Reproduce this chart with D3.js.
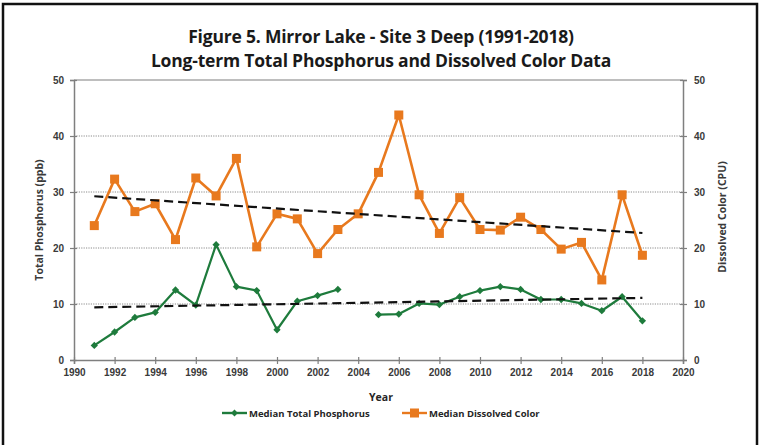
<!DOCTYPE html>
<html>
<head>
<meta charset="utf-8">
<script src="https://cdn.jsdelivr.net/npm/d3@7"></script>
<style>
  html, body { margin: 0; padding: 0; background: #fff; }
  svg { display: block; font-family: "Open Sans", sans-serif; }
</style>
</head>
<body>
<div id="container"></div>
<script>
"use strict";

const years = [1991, 1992, 1993, 1994, 1995, 1996, 1997, 1998, 1999, 2000, 2001, 2002, 2003, 2004,
  2005, 2006, 2007, 2008, 2009, 2010, 2011, 2012, 2013, 2014, 2015, 2016, 2017, 2018];
// Median Total Phosphorus (ppb), no value in 2004
const phosphorus = [2.6, 5.0, 7.6, 8.5, 12.5, 9.8, 20.6, 13.1, 12.4, 5.4, 10.5, 11.5, 12.6, null,
  8.1, 8.2, 10.1, 9.9, 11.3, 12.4, 13.1, 12.6, 10.8, 10.8, 10.1, 8.8, 11.3, 7.0];
// Median Dissolved Color (CPU)
const color = [24.0, 32.3, 26.5, 27.9, 21.5, 32.5, 29.3, 36.0, 20.2, 26.1, 25.2, 19.0, 23.3, 26.1,
  33.5, 43.75, 29.5, 22.6, 29.0, 23.3, 23.2, 25.5, 23.3, 19.8, 21.0, 14.3, 29.5, 18.7];
const xTicks = d3.range(1990, 2021, 2);
const yTicks = [0, 10, 20, 30, 40, 50];
const titleLines = ["Figure 5. Mirror Lake - Site 3 Deep (1991-2018)",
  "Long-term Total Phosphorus and Dissolved Color Data"];

const W = 761, H = 445;
const plot = { left: 74, right: 683, top: 80, bottom: 360 };
const GREEN = "#1e7b3c", ORANGE = "#e8791e", AXIS = "#7f7f7f", TEXT = "#3a3a3a";

const svg = d3.select("#container").append("svg").attr("width", W).attr("height", H);

// Outer frame
svg.append("rect").attr("x", 3).attr("y", 4).attr("width", 754).attr("height", H + 10)
  .attr("fill", "none").attr("stroke", "#111").attr("stroke-width", 2.5);

const x = d3.scaleLinear().domain([1990, 2020]).range([plot.left, plot.right]);
const y = d3.scaleLinear().domain([0, 50]).range([plot.bottom, plot.top]);
const y2 = d3.scaleLinear().domain([0, 50]).range([plot.bottom, plot.top]);

// Title
svg.append("g").selectAll("text").data(titleLines).join("text")
  .attr("x", 381).attr("y", (d, i) => 43 + i * 24)
  .attr("text-anchor", "middle").attr("font-size", 17.5).attr("font-weight", 700)
  .attr("letter-spacing", -0.2).attr("fill", "#1a1a1a").text((d) => d);

// Gridlines
svg.append("g").selectAll("line").data(yTicks.filter((t) => t > 0 && t < 50)).join("line")
  .attr("x1", plot.left).attr("x2", plot.right)
  .attr("y1", (d) => y(d)).attr("y2", (d) => y(d))
  .attr("stroke", "#8c8c8c").attr("stroke-width", 1).attr("stroke-dasharray", "1.2,1.2");
svg.append("line").attr("x1", plot.left).attr("x2", plot.right)
  .attr("y1", plot.top).attr("y2", plot.top).attr("stroke", AXIS).attr("stroke-width", 1.2);

// Axes (ticks crossing the axis line)
function styleAxis(g) {
  g.selectAll("path.domain").attr("stroke", AXIS).attr("stroke-width", 1.5);
  g.selectAll(".tick line").attr("stroke", AXIS).attr("stroke-width", 1.2);
  g.selectAll("text").attr("fill", TEXT).attr("font-size", 10).attr("font-weight", 700);
}

const gx = svg.append("g").attr("transform", `translate(0,${plot.bottom})`)
  .call(d3.axisBottom(x).tickValues(xTicks).tickFormat(d3.format("d")).tickSizeOuter(0).tickSize(4).tickPadding(5))
  .call(styleAxis);
gx.selectAll(".tick line").attr("y1", -3);

const gy = svg.append("g").attr("transform", `translate(${plot.left},0)`)
  .call(d3.axisLeft(y).tickValues(yTicks).tickSizeOuter(0).tickSize(4).tickPadding(6))
  .call(styleAxis);
gy.selectAll(".tick line").attr("x1", 3);

const gy2 = svg.append("g").attr("transform", `translate(${plot.right},0)`)
  .call(d3.axisRight(y2).tickValues(yTicks).tickSizeOuter(0).tickSize(4).tickPadding(7))
  .call(styleAxis);
gy2.selectAll(".tick line").attr("x1", -3);

// Axis titles
svg.append("text").attr("transform", `translate(43,${(plot.top + plot.bottom) / 2}) rotate(-90)`)
  .attr("text-anchor", "middle").attr("font-size", 10.5).attr("font-weight", 700)
  .attr("fill", TEXT).text("Total Phosphorus (ppb)");
svg.append("text").attr("transform", `translate(726,${(plot.top + plot.bottom) / 2 - 3}) rotate(-90)`)
  .attr("text-anchor", "middle").attr("font-size", 10.5).attr("font-weight", 700)
  .attr("fill", TEXT).text("Dissolved Color (CPU)");
svg.append("text").attr("x", 381).attr("y", 401).attr("text-anchor", "middle")
  .attr("font-size", 10.5).attr("font-weight", 700).attr("fill", "#262626").text("Year");

// Linear trend lines (least squares, like the spreadsheet trendline)
function trend(xs, ys) {
  const pts = xs.map((v, i) => [v, ys[i]]).filter((p) => p[1] != null);
  const mx = d3.mean(pts, (p) => p[0]), my = d3.mean(pts, (p) => p[1]);
  const slope = d3.sum(pts, (p) => (p[0] - mx) * (p[1] - my)) / d3.sum(pts, (p) => (p[0] - mx) ** 2);
  const x0 = d3.min(pts, (p) => p[0]), x1 = d3.max(pts, (p) => p[0]);
  return [[x0, my + slope * (x0 - mx)], [x1, my + slope * (x1 - mx)]];
}

const colorPts = years.map((yr, i) => ({ yr, v: color[i] }));
const tpPts = years.map((yr, i) => ({ yr, v: phosphorus[i] }));

const line = (scale) => d3.line().defined((d) => d.v != null).x((d) => x(d.yr)).y((d) => scale(d.v));

// Dissolved color series
svg.append("path").datum(colorPts).attr("d", line(y2))
  .attr("fill", "none").attr("stroke", ORANGE).attr("stroke-width", 2.6).attr("stroke-linejoin", "round");
svg.append("g").selectAll("rect").data(colorPts).join("rect")
  .attr("x", (d) => x(d.yr) - 4.5).attr("y", (d) => y2(d.v) - 4.5)
  .attr("width", 9).attr("height", 9).attr("fill", ORANGE);

// Phosphorus series
svg.append("path").datum(tpPts).attr("d", line(y))
  .attr("fill", "none").attr("stroke", GREEN).attr("stroke-width", 2.2).attr("stroke-linejoin", "round");
svg.append("g").selectAll("path.dm").data(tpPts.filter((d) => d.v != null)).join("path")
  .attr("d", d3.symbol(d3.symbolDiamond2, 34))
  .attr("transform", (d) => `translate(${x(d.yr)},${y(d.v)})`).attr("fill", GREEN);

// Trend lines on top
const tl = d3.line().x((d) => x(d[0]));
svg.append("path").attr("d", tl.y((d) => y2(d[1]))(trend(years, color)))
  .attr("fill", "none").attr("stroke", "#111").attr("stroke-width", 2.2).attr("stroke-dasharray", "9,5");
svg.append("path").attr("d", tl.y((d) => y(d[1]))(trend(years, phosphorus)))
  .attr("fill", "none").attr("stroke", "#111").attr("stroke-width", 2.2).attr("stroke-dasharray", "9,5");

// Legend
const legend = [
  { label: "Median Total Phosphorus", c: GREEN, x: 222, marker: "diamond" },
  { label: "Median Dissolved Color", c: ORANGE, x: 402, marker: "square" }
];
const lg = svg.append("g").selectAll("g").data(legend).join("g")
  .attr("transform", (d) => `translate(${d.x},413)`);
lg.append("line").attr("x1", 0).attr("x2", 25).attr("stroke", (d) => d.c).attr("stroke-width", 2.4);
lg.filter((d) => d.marker === "square").append("rect")
  .attr("x", 8).attr("y", -4.5).attr("width", 9).attr("height", 9).attr("fill", (d) => d.c);
lg.filter((d) => d.marker === "diamond").append("path")
  .attr("d", d3.symbol(d3.symbolDiamond2, 30)).attr("transform", "translate(12.5,0)")
  .attr("fill", (d) => d.c);
lg.append("text").attr("x", 27).attr("y", 3.5).attr("font-size", 9.5).attr("font-weight", 700)
  .attr("fill", "#262626").text((d) => d.label);
</script>
</body>
</html>
